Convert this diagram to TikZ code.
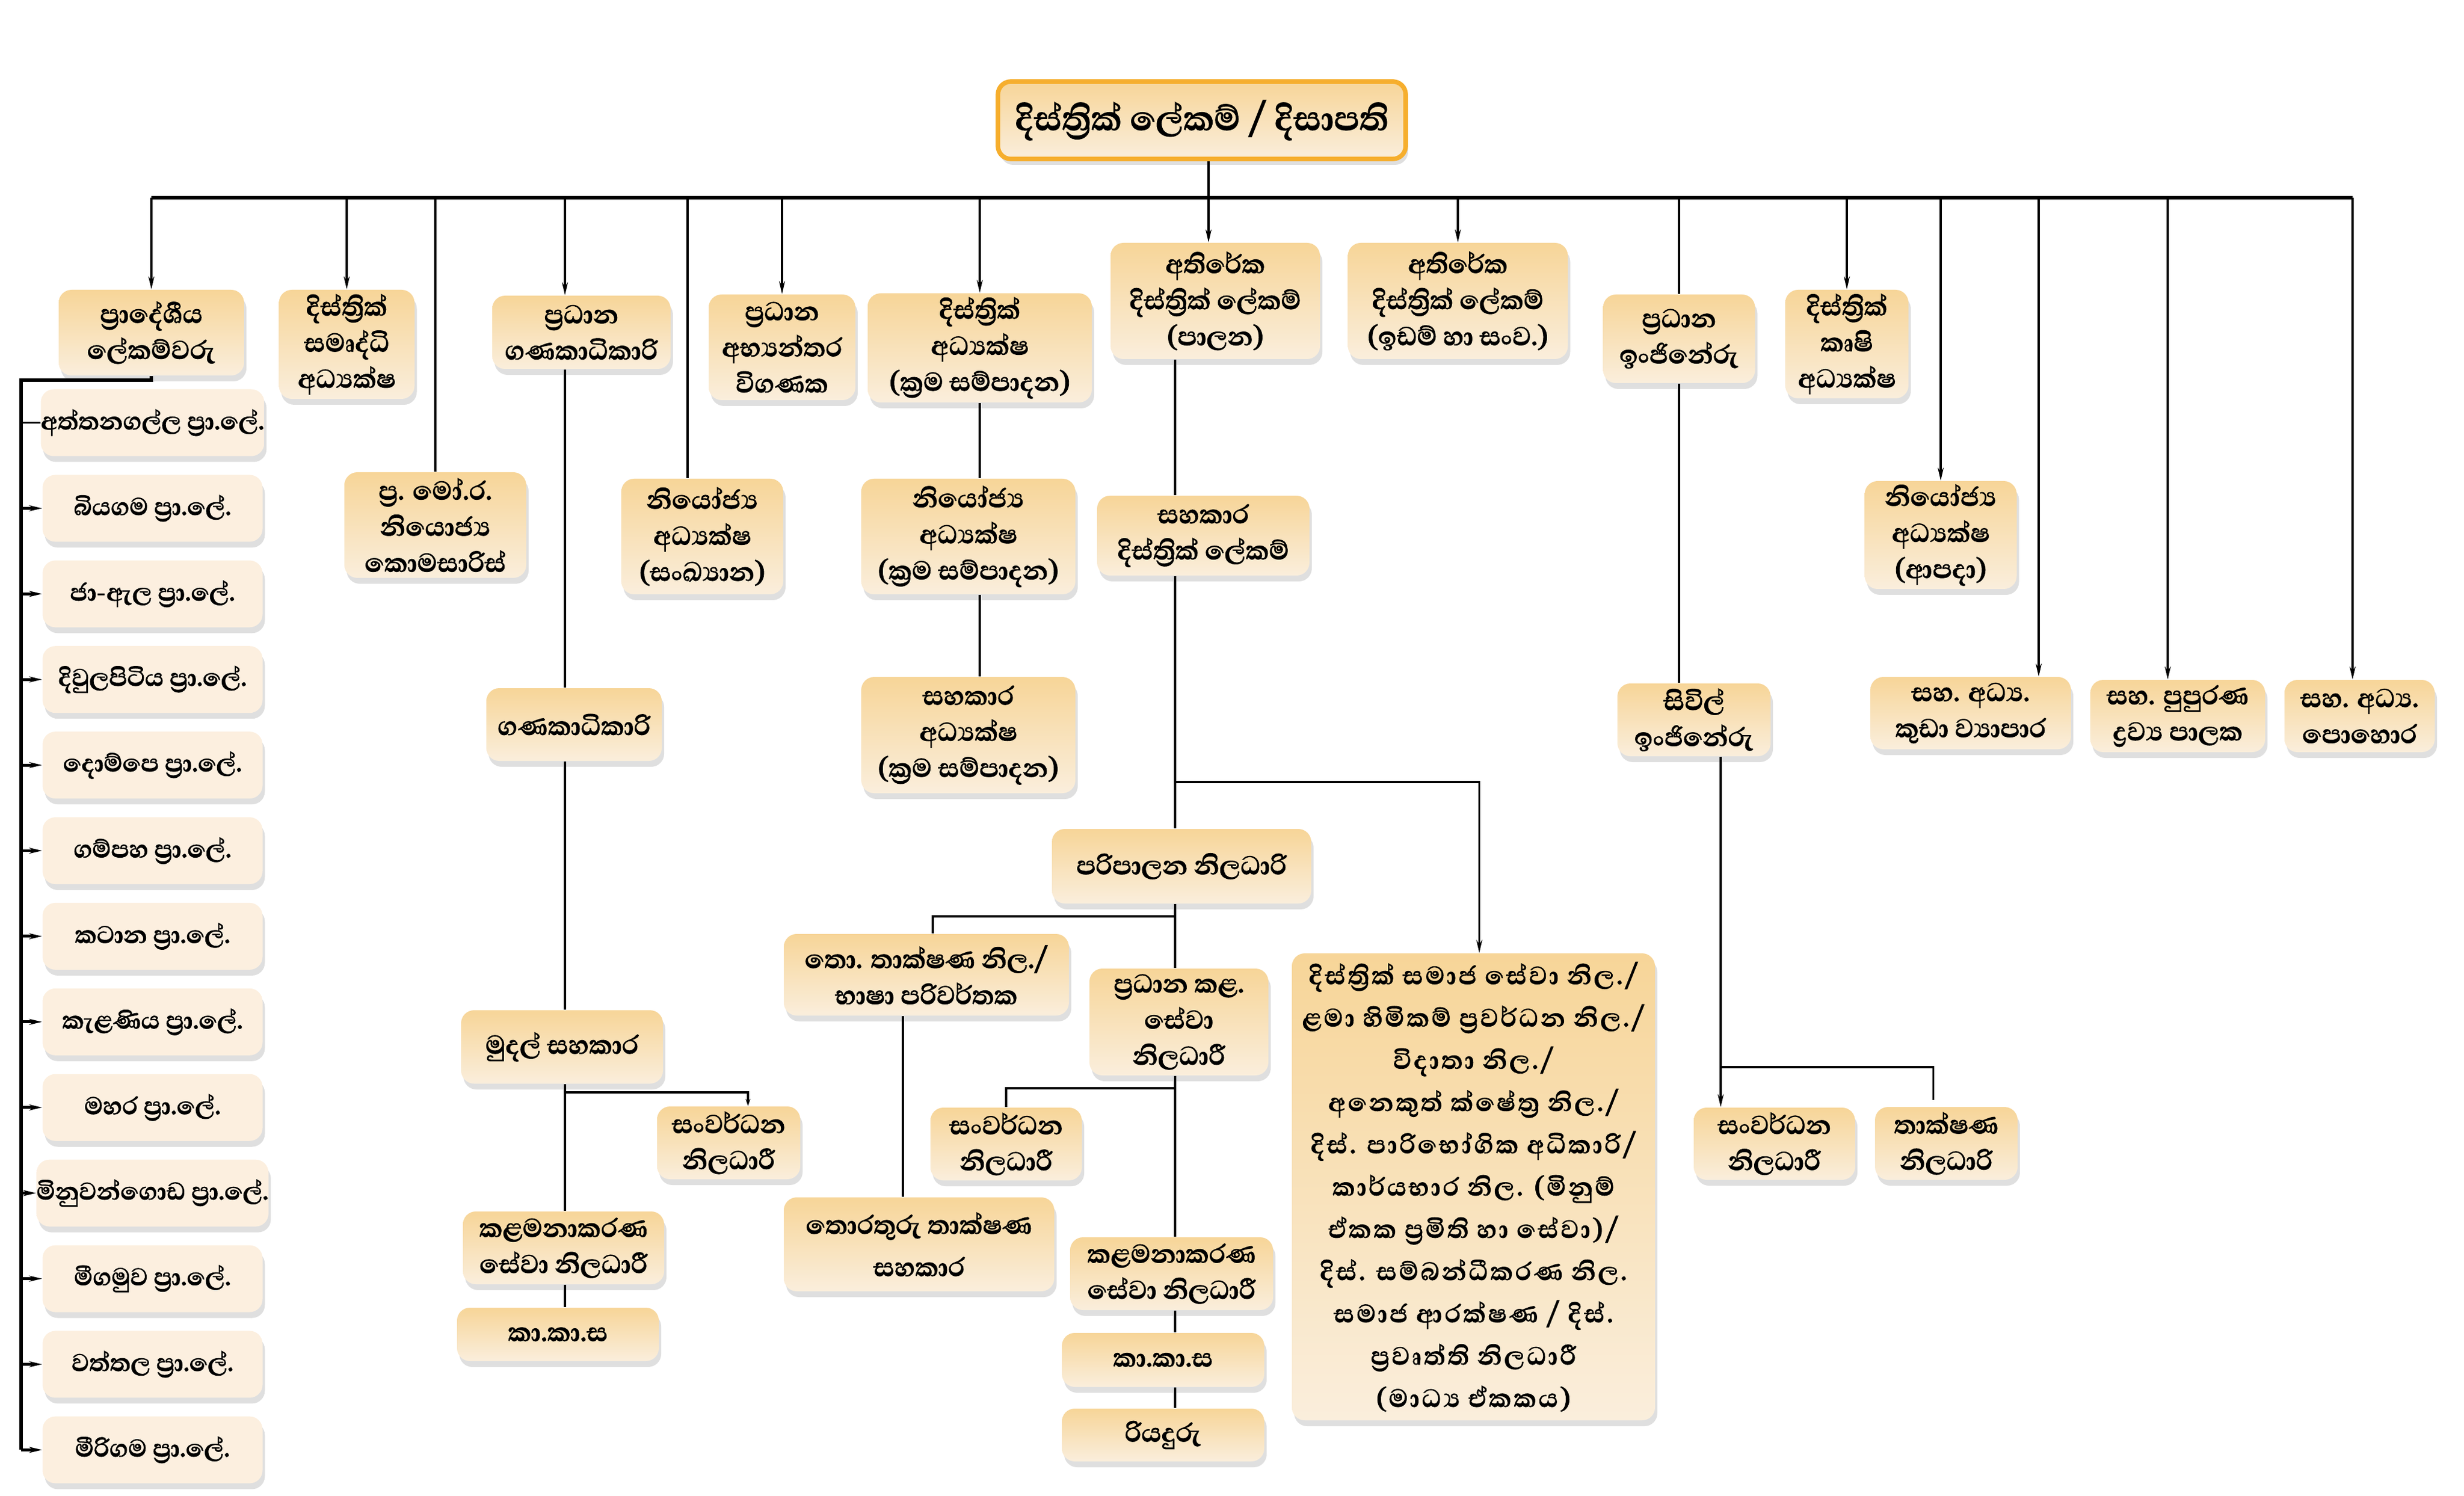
\documentclass[tikz,border=0pt]{standalone}
\usepackage{fontspec}
\setmainfont[Script=Sinhala, BoldFeatures={FakeBold=1.6}]{Abhaya Libre}
\newfontfamily\widefont[Script=Sinhala, LetterSpace=7, BoldFeatures={FakeBold=1.6}]{Abhaya Libre}
\usetikzlibrary{arrows.meta, positioning, shadows}
\definecolor{boxtop}{HTML}{F7D598}
\definecolor{boxbottom}{HTML}{FAEEDC}
\definecolor{listfill}{HTML}{FCEFDF}
\definecolor{titleborder}{HTML}{F6AE2D}

\begin{document}
\begin{tikzpicture}[
        font=\bfseries\fontsize{16}{17.5}\selectfont,
        node distance=0.305cm,
        post/.style={rectangle, rounded corners=0.22cm, top color=boxtop, bottom color=boxbottom,
                     align=center, inner sep=1pt,
                     drop shadow={shadow xshift=0.04cm, shadow yshift=-0.1cm, opacity=0.25}},
        listbox/.style={post, top color=listfill, bottom color=listfill, minimum width=3.75cm, minimum height=1.14cm,
                        inner sep=0pt, font=\bfseries\fontsize{15}{17}\selectfont},
        title/.style={post, draw=titleborder, line width=2.2pt, minimum width=6.95cm, minimum height=1.32cm,
                      font=\bfseries\fontsize{21}{24}\selectfont},
        boxsize/.style 2 args={minimum width=#1cm, minimum height=#2cm},
        link/.style={line width=1pt},
        arrow/.style={line width=1pt, -{Stealth[length=0.22cm, width=0.1cm]}},
        bus/.style={line width=1.8pt},
        spine/.style={line width=1.6pt}
    ]
        \useasboundingbox (0,0) rectangle (42,-25.5);

        \node[title] (secretary) at (20.485,-2.05) {දිස්ත්‍රික් ලේකම් / දිසාපති};

        \node[post, boxsize={3.16}{1.46}] (pradeshiya) at (2.58,-5.67) {ප්‍රාදේශීය\\ලේකම්වරු};
        \node[post, boxsize={2.31}{1.86}] (samurdhi) at (5.91,-5.87) {දිස්ත්‍රික්\\සමෘද්ධි\\අධ්‍යක්ෂ};
        \node[post, boxsize={3.10}{1.80}] (morara) at (7.42,-8.95) {ප්‍ර. මෝ.ර.\\නියොජ්‍ය\\කොමසාරිස්};
        \node[post, boxsize={3.04}{1.25}] (pradhanaganaka) at (9.91,-5.665) {ප්‍රධාන\\ගණකාධිකාරි};
        \node[post, boxsize={2.76}{1.97}] (sankhyana) at (11.97,-9.145) {නියෝජ්‍ය\\අධ්‍යක්ෂ\\(සංඛ්‍යාන)};
        \node[post, boxsize={2.50}{1.80}] (abhyanthara) at (13.33,-5.92) {ප්‍රධාන\\අභ්‍යන්තර\\විගණක};
        \node[post, boxsize={3.82}{1.86}] (kramasampadana) at (16.70,-5.93) {දිස්ත්‍රික්\\අධ්‍යක්ෂ\\(ක්‍රම සම්පාදන)};
        \node[post, boxsize={3.57}{1.98}] (palana) at (20.715,-5.13) {අතිරේක\\දිස්ත්‍රික් ලේකම්\\(පාලන)};
        \node[post, boxsize={3.75}{1.98}] (idam) at (24.85,-5.13) {අතිරේක\\දිස්ත්‍රික් ලේකම්\\(ඉඩම් හා සංව.)};
        \node[post, boxsize={2.59}{1.51}] (injineru) at (28.62,-5.775) {ප්‍රධාන\\ඉංජිනේරු};
        \node[post, boxsize={2.10}{1.85}] (krushi) at (31.48,-5.865) {දිස්ත්‍රික්\\කෘෂි\\අධ්‍යක්ෂ};
        \node[post, boxsize={2.59}{1.84}] (apada) at (33.08,-9.12) {නියෝජ්‍ය\\අධ්‍යක්ෂ\\(ආපදා)};
        \node[post, boxsize={3.42}{1.23}] (kuda) at (33.59,-12.155) {සහ. අධ්‍ය.\\කුඩා ව්‍යාපාර};
        \node[post, boxsize={2.98}{1.23}] (pupurana) at (37.12,-12.205) {සහ. පුපුරණ\\ද්‍රව්‍ය පාලක};
        \node[post, boxsize={2.56}{1.23}] (pohora) at (40.22,-12.205) {සහ. අධ්‍ය.\\පොහොර};

        \node[listbox] (aththanagalla) at (2.60,-7.205) {අත්තනගල්ල ප්‍රා.ලේ.};
        \node[listbox, below=of aththanagalla] (biyagama) {බියගම ප්‍රා.ලේ.};
        \node[listbox, below=of biyagama] (jaela) {ජා-ඇල ප්‍රා.ලේ.};
        \node[listbox, below=of jaela] (diwulapitiya) {දිවුලපිටිය ප්‍රා.ලේ.};
        \node[listbox, below=of diwulapitiya] (dompe) {දොම්පෙ ප්‍රා.ලේ.};
        \node[listbox, below=of dompe] (gampaha) {ගම්පහ ප්‍රා.ලේ.};
        \node[listbox, below=of gampaha] (katana) {කටාන ප්‍රා.ලේ.};
        \node[listbox, below=of katana] (kelaniya) {කැළණිය ප්‍රා.ලේ.};
        \node[listbox, below=of kelaniya] (mahara) {මහර ප්‍රා.ලේ.};
        \node[listbox, below=of mahara] (minuwangoda) {මිනුවන්ගොඩ ප්‍රා.ලේ.};
        \node[listbox, below=of minuwangoda] (negombo) {මීගමුව ප්‍රා.ලේ.};
        \node[listbox, below=of negombo] (wattala) {වත්තල ප්‍රා.ලේ.};
        \node[listbox, below=of wattala] (mirigama) {මීරිගම ප්‍රා.ලේ.};

        \node[post, boxsize={2.99}{1.24}] (ganakadhikari) at (9.785,-12.35) {ගණකාධිකාරි};
        \node[post, boxsize={3.44}{1.25}] (mudal) at (9.58,-17.845) {මුදල් සහකාර};
        \node[post, boxsize={2.44}{1.24}] (sanwardhanal) at (12.42,-19.48) {සංවර්ධන\\නිලධාරී};
        \node[post, boxsize={3.43}{1.24}] (kalamanakaranal) at (9.605,-21.27) {කළමනාකරණ\\සේවා නිලධාරී};
        \node[post, boxsize={3.44}{0.91}] (kakasal) at (9.51,-22.745) {කා.කා.ස};

        \node[post, boxsize={3.65}{1.97}] (niyojyakrama) at (16.505,-9.145) {නියෝජ්‍ය\\අධ්‍යක්ෂ\\(ක්‍රම සම්පාදන)};
        \node[post, boxsize={3.65}{1.98}] (sahakarakrama) at (16.505,-12.53) {සහකාර\\අධ්‍යක්ෂ\\(ක්‍රම සම්පාදන)};

        \node[post, boxsize={3.62}{1.36}] (sahakaradistrict) at (20.51,-9.13) {සහකාර\\දිස්ත්‍රික් ලේකම්};
        \node[post, boxsize={4.42}{1.27}] (paripalana) at (20.14,-14.765) {පරිපාලන නිලධාරි};
        \node[post, boxsize={4.86}{1.39}] (thotech) at (15.79,-16.615) {තො. තාක්ෂණ නිල./\\භාෂා පරිවර්තක};
        \node[post, boxsize={3.05}{1.82}] (pradhanakala) at (20.095,-17.42) {ප්‍රධාන කළ.\\සේවා\\නිලධාරී};
        \node[post, boxsize={4.61}{1.60}] (thorathuru) at (15.665,-21.21) {තොරතුරු තාක්ෂණ\\[3pt]සහකාර};
        \node[post, boxsize={2.58}{1.24}] (sanwardhanam) at (17.15,-19.50) {සංවර්ධන\\නිලධාරී};
        \node[post, boxsize={3.46}{1.24}] (kalamanakaranam) at (19.97,-21.71) {කළමනාකරණ\\සේවා නිලධාරී};
        \node[post, boxsize={3.45}{0.92}] (kakasam) at (19.825,-23.18) {කා.කා.ස};
        \node[post, boxsize={3.45}{0.90}] (riyaduru) at (19.825,-24.46) {රියදුරු};

        \node[post, boxsize={6.19}{7.96}, font=\widefont\bfseries\fontsize{15.5}{20.5}\selectfont] (bigbox) at (25.115,-20.23)
            {දිස්ත්‍රික් සමාජ සේවා නිල./\\ළමා හිමිකම් ප්‍රවර්ධන නිල./\\විදාතා නිල./\\අනෙකුත් ක්ෂේත්‍ර නිල./\\
             දිස්. පාරිභෝගික අධිකාරි/\\කාර්යභාර නිල. (මිනුම්\\ඒකක ප්‍රමිති හා සේවා)/\\
             දිස්. සම්බන්ධීකරණ නිල.\\සමාජ ආරක්ෂණ / දිස්.\\ප්‍රවෘත්ති නිලධාරී\\(මාධ්‍ය ඒකකය)};

        \node[post, boxsize={2.61}{1.24}] (sivil) at (28.875,-12.27) {සිවිල්\\ඉංජිනේරු};
        \node[post, boxsize={2.75}{1.23}] (sivilsanwardhana) at (30.245,-19.495) {සංවර්ධන\\නිලධාරී};
        \node[post, boxsize={2.43}{1.24}] (thakshana) at (33.175,-19.49) {තාක්ෂණ\\නිලධාරි};

        \coordinate (busleft) at (2.58,-3.37);
        \coordinate (busright) at (40.10,-3.37);
        \coordinate (tsecretary) at (20.6,-3.37);
        \coordinate (ganacol) at (9.63,-3.37);
        \coordinate (tsankhyana) at (11.72,-3.37);
        \coordinate (tkuda) at (34.75,-3.37);
        \coordinate (tpupurana) at (36.95,-3.37);
        \coordinate (spinetop) at (0.36,-6.48);
        \coordinate (mudalsplit) at (9.63,-18.62);
        \coordinate (palanacol) at (20.03,-13.33);
        \coordinate (paripalanasplit) at (20.03,-15.62);
        \coordinate (kalasplit) at (20.03,-18.55);
        \coordinate (sivilsplit) at (29.33,-18.19);

        \draw[link] (secretary.south -| tsecretary) -- (tsecretary);
        \draw[bus] (busleft) -- (busright);

        \draw[arrow] (busleft) -- (pradeshiya.north);
        \draw[arrow] (samurdhi.north |- busleft) -- (samurdhi.north);
        \draw[link] (morara.north |- busleft) -- (morara.north);
        \draw[arrow] (ganacol) -- (ganacol |- pradhanaganaka.north);
        \draw[link] (tsankhyana) -- (tsankhyana |- sankhyana.north);
        \draw[arrow] (abhyanthara.north |- busleft) -- (abhyanthara.north);
        \draw[arrow] (kramasampadana.north |- busleft) -- (kramasampadana.north);
        \draw[arrow] (tsecretary) -- (tsecretary |- palana.north);
        \draw[arrow] (idam.north |- busleft) -- (idam.north);
        \draw[link] (injineru.north |- busleft) -- (injineru.north);
        \draw[arrow] (krushi.north |- busleft) -- (krushi.north);
        \draw[arrow] (apada.north |- busleft) -- (apada.north);
        \draw[arrow] (tkuda) -- (tkuda |- kuda.north);
        \draw[arrow] (tpupurana) -- (tpupurana |- pupurana.north);
        \draw[arrow] (busright) -- (busright |- pohora.north);

        \draw[spine] (pradeshiya.south) |- (spinetop) -- (spinetop |- mirigama.west);
        \draw[link] (spinetop |- aththanagalla.west) -- (aththanagalla.west);
        \draw[arrow, line width=1.4pt] (spinetop |- biyagama.west) -- (biyagama.west);
        \draw[arrow, line width=1.4pt] (spinetop |- jaela.west) -- (jaela.west);
        \draw[arrow, line width=1.4pt] (spinetop |- diwulapitiya.west) -- (diwulapitiya.west);
        \draw[arrow, line width=1.4pt] (spinetop |- dompe.west) -- (dompe.west);
        \draw[arrow, line width=1.4pt] (spinetop |- gampaha.west) -- (gampaha.west);
        \draw[arrow, line width=1.4pt] (spinetop |- katana.west) -- (katana.west);
        \draw[arrow, line width=1.4pt] (spinetop |- kelaniya.west) -- (kelaniya.west);
        \draw[arrow, line width=1.4pt] (spinetop |- mahara.west) -- (mahara.west);
        \draw[arrow, line width=1.4pt] (spinetop |- minuwangoda.west) -- (minuwangoda.west);
        \draw[arrow, line width=1.4pt] (spinetop |- negombo.west) -- (negombo.west);
        \draw[arrow, line width=1.4pt] (spinetop |- wattala.west) -- (wattala.west);
        \draw[arrow, line width=1.4pt] (spinetop |- mirigama.west) -- (mirigama.west);

        \draw[link] (pradhanaganaka.south -| ganacol) -- (ganakadhikari.north -| ganacol);
        \draw[link] (ganakadhikari.south -| ganacol) -- (mudal.north -| ganacol);
        \draw[link] (mudal.south -| ganacol) -- (kalamanakaranal.north -| ganacol);
        \draw[link] (kalamanakaranal.south -| ganacol) -- (kakasal.north -| ganacol);
        \draw[arrow, -{Stealth[length=0.12cm, width=0.08cm]}] (mudalsplit) -| ([xshift=0.33cm]sanwardhanal.north);

        \draw[link] (kramasampadana.south) -- (kramasampadana.south |- niyojyakrama.north);
        \draw[link] (kramasampadana.south |- niyojyakrama.south) -- (kramasampadana.south |- sahakarakrama.north);

        \draw[link] (palana.south -| palanacol) -- (sahakaradistrict.north -| palanacol);
        \draw[link] (sahakaradistrict.south -| palanacol) -- (paripalana.north -| palanacol);
        \draw[arrow] (palanacol) -| ([xshift=0.1cm]bigbox.north);
        \draw[link] (paripalana.south -| palanacol) -- (pradhanakala.north -| palanacol);
        \draw[link] (paripalanasplit) -| ([xshift=0.11cm]thotech.north);
        \draw[link] ([xshift=-0.4cm]thotech.south) -- ([xshift=-0.4cm]thotech.south |- thorathuru.north);
        \draw[link] (pradhanakala.south -| palanacol) -- (kalamanakaranam.north -| palanacol);
        \draw[link] (kalasplit) -| (sanwardhanam.north);
        \draw[link] (kalamanakaranam.south -| palanacol) -- (kakasam.north -| palanacol);
        \draw[link] (kakasam.south -| palanacol) -- (riyaduru.north -| palanacol);

        \draw[link] (injineru.south) -- (injineru.south |- sivil.north);
        \draw[arrow] (sivil.south -| sivilsplit) -- (sivilsplit |- sivilsanwardhana.north);
        \draw[link] (sivilsplit) -| ([xshift=-0.22cm, yshift=0.11cm]thakshana.north);
    \end{tikzpicture}
\end{document}
